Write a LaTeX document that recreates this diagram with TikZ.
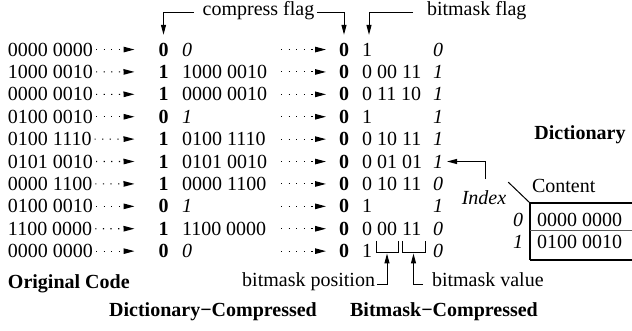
\documentclass[tikz,border=0pt]{standalone}
\usepackage{fontspec}
\setmainfont{Liberation Serif}
\usetikzlibrary{arrows.meta}
\begin{document}
\begin{tikzpicture}[x=1pt,y=-1pt,
  every node/.style={inner sep=0pt, outer sep=0pt, font=\fontsize{20}{24}\selectfont},
  txt/.style={anchor=base west},
  bd/.style={anchor=base, font=\fontsize{20}{24}\selectfont\bfseries},
  itx/.style={anchor=base west, font=\fontsize{20}{24}\selectfont\itshape},
  ttl/.style={font=\fontsize{20}{24}\selectfont\bfseries},
  dotarrow/.style={line width=1.1pt, dash pattern=on 1.2pt off 6.4pt, -{Triangle[length=11pt,width=5.5pt]}},
  conn/.style={line width=1pt},
  connarrow/.style={line width=1pt, -{Triangle[length=10pt,width=5pt]}},
  tabline/.style={line width=1.3pt},
  tabmid/.style={line width=0.8pt, black!65},
]
\useasboundingbox (0,0) rectangle (632,331);

\foreach \o/\f/\ds/\d/\b/\e [count=\i] in {
 0000 0000/0/\itshape/0/1/0,
 1000 0010/1/\upshape/1000 0010/0 00 11/1,
 0000 0010/1/\upshape/0000 0010/0 11 10/1,
 0100 0010/0/\itshape/1/1/1,
 0100 1110/1/\upshape/0100 1110/0 10 11/1,
 0101 0010/1/\upshape/0101 0010/0 01 01/1,
 0000 1100/1/\upshape/0000 1100/0 10 11/0,
 0100 0010/0/\itshape/1/1/1,
 1100 0000/1/\upshape/1100 0000/0 00 11/0,
 0000 0000/0/\itshape/0/1/0}
{
 \pgfmathsetmacro\yb{56.1+22.4*(\i-1)}
 \node[txt] (o\i) at (8,\yb) {\o};
 \node[bd] (df\i) at (163.5,\yb) {\f};
 \node[txt] (dt\i) at (182,\yb) {\ds\d};
 \node[bd] (bf\i) at (344,\yb) {0};
 \node[txt] (bt\i) at (362,\yb) {\b};
 \node[itx] (bi\i) at (433,\yb) {\e};
 \coordinate (s\i) at (bf\i.west -| 281,0);
 \draw[dotarrow] ([xshift=3pt]o\i.east) -- ([xshift=-24pt]df\i.west);
 \draw[dotarrow] (s\i) -- ([xshift=-13pt]bf\i.west);
}

% flags
\node[anchor=mid] (cf) at (258.5,13) {compress flag};
\node[anchor=mid west] (bmf) at (427,13) {bitmask flag};
\draw[connarrow, shorten >=8pt] ([xshift=-9pt]cf.mid west) -| (df1.north);
\draw[connarrow, shorten >=8pt] ([xshift=3pt]cf.mid east) -| (bf1.north);
\draw[connarrow, shorten >=8pt] ([xshift=-14pt]bmf.mid west) -| ([xshift=7pt]bt1.north west);

% brackets under row 9
\draw[conn] (376,241) |- (398,253) -- (398,241);
\draw[conn] (402,241) |- (425,253) -- (425,241);
\coordinate (pb) at (387,253.5);
\coordinate (vb) at (413.5,253.5);
\node[anchor=mid east] (lpos) at (375,284) {bitmask position};
\node[anchor=mid west] (lval) at (432,284) {bitmask value};
\draw[connarrow] ([xshift=2pt]lpos.mid east) -| (pb);
\draw[connarrow] ([xshift=-9pt]lval.mid west) -| (vb);

% titles
\node[ttl, anchor=base west] (orig) at (8,288) {Original Code};
\node[ttl, anchor=base] (dcomp) at (213,316) {Dictionary−Compressed};
\node[ttl, anchor=base] (bcomp) at (444,316) {Bitmask−Compressed};
\node[ttl, anchor=base] (dict) at (580,140) {Dictionary};

% dictionary table
\coordinate (tc) at (530,203);
\coordinate (tr) at (632,203);
\coordinate (bl) at (530,260);
\coordinate (br) at (632,260);
\coordinate (ml) at (530,230.5);
\coordinate (mr) at (632,230.5);
\draw[tabline] (tc) -- (tr);
\draw[tabline] (tc) -- (bl);
\draw[tabline] (bl) -- (br);
\draw[tabmid] (ml) -- (mr);
\node[txt] (content) at (532,193) {Content};
\node[itx, anchor=base] (idx) at (484,205) {Index};
\node[itx, anchor=base east] (i0) at (523,227) {0};
\node[itx, anchor=base east] (i1) at (523,248) {1};
\node[txt] (c0) at (537,227) {0000 0000};
\node[txt] (c1) at (537,248) {0100 0010};
\draw[conn] ([shift={(2pt,9pt)}]idx.north east) -- (tc);
\draw[connarrow, shorten >=4pt] ([shift={(1pt,12pt)}]idx.north) |- (bi6.east);
\end{tikzpicture}
\end{document}
